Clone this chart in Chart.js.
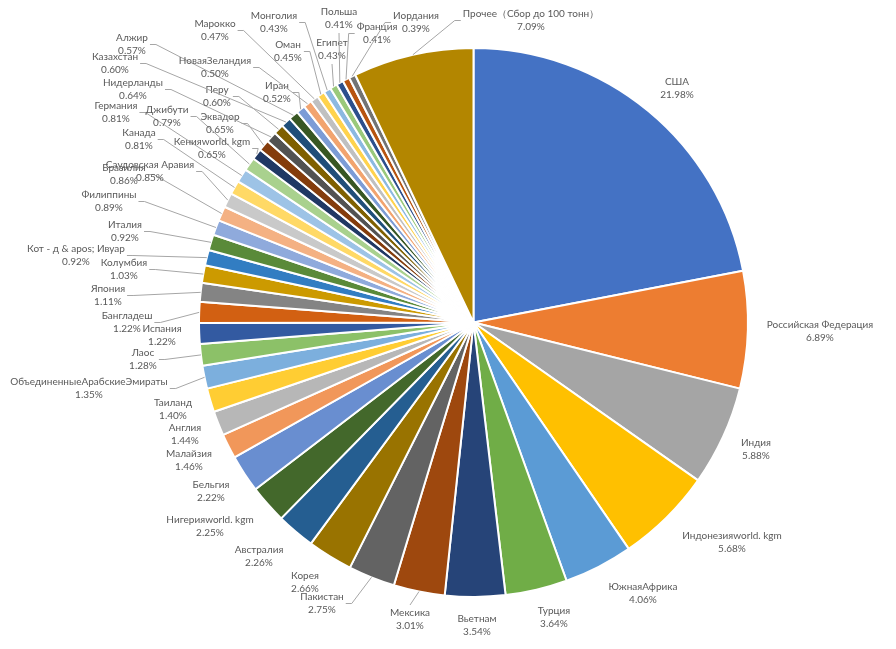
<!DOCTYPE html>
<html lang="ru">
<head>
<meta charset="UTF-8">
<title>Доля стран</title>
<script src="https://cdn.jsdelivr.net/npm/chart.js"></script>
<style>
  html, body { margin: 0; padding: 0; background: #fff; }
  #wrap { width: 896px; height: 649px; }
</style>
</head>
<body>
<div id="wrap"><canvas id="pie" width="896" height="649"></canvas></div>
<script>
  const countries = [
    'США', 'Российская Федерация', 'Индия', 'Индонезияworld. kgm', 'ЮжнаяАфрика', 'Турция',
    'Вьетнам', 'Мексика', 'Пакистан', 'Корея', 'Австралия', 'Нигерияworld. kgm',
    'Бельгия', 'Малайзия', 'Англия', 'Таиланд', 'ОбъединенныеАрабскиеЭмираты', 'Лаос',
    'Испания', 'Бангладеш', 'Япония', 'Колумбия', 'Кот - д & apos; Ивуар', 'Италия',
    'Филиппины', 'Бразилия', 'Саудовская Аравия', 'Канада', 'Германия', 'Джибути',
    'Кенияworld. kgm', 'Эквадор', 'Нидерланды', 'Перу', 'Казахстан', 'Алжир',
    'Иран', 'НоваяЗеландия', 'Марокко', 'Оман', 'Монголия', 'Египет',
    'Польша', 'Франция', 'Иордания', 'Прочее（Сбор до 100 тонн）'
  ];

  const shares = [
    21.98, 6.89, 5.88, 5.68, 4.06, 3.64,
    3.54, 3.01, 2.75, 2.66, 2.26, 2.25,
    2.22, 1.46, 1.44, 1.40, 1.35, 1.28,
    1.22, 1.22, 1.11, 1.03, 0.92, 0.92,
    0.89, 0.86, 0.85, 0.81, 0.81, 0.79,
    0.65, 0.65, 0.64, 0.60, 0.60, 0.57,
    0.52, 0.50, 0.47, 0.45, 0.43, 0.43,
    0.41, 0.41, 0.39, 7.09
  ];

  // office palette, cycled through its shades the way Excel does
  const colors = [
    '#4472C4', '#ED7D31', '#A5A5A5', '#FFC000', '#5B9BD5', '#70AD47',
    '#264478', '#9E480E', '#636363', '#997300', '#255E91', '#43682B',
    '#698ED0', '#F1975A', '#B7B7B7', '#FFCD33', '#7CAFDD', '#8CC168',
    '#335AA1', '#D26012', '#848484', '#CC9A00', '#327DC2', '#5A8A39',
    '#8FAADC', '#F4B183', '#C9C9C9', '#FFD966', '#9DC3E6', '#A9D18E',
    '#203864', '#843C0C', '#525252', '#7F6000', '#1F4E79', '#385723',
    '#7C9CD6', '#F2A46F', '#C0C0C0', '#FFD34D', '#8CB9E1', '#9AC97B',
    '#2C4F8D', '#B85410', '#737373', '#B38600'
  ];

  // where each label sits (centre of its first line) and whether it has a leader line
  const labelPos = [
    [677, 82], [820, 325], [756, 443], [732, 536], [643, 587], [554, 611],
    [477, 619], [410, 613], [322, 597], [305, 576], [259, 550], [210, 520],
    [211, 485], [189, 454], [185, 428], [173, 403], [89, 382], [143, 353],
    [162, 329], [127, 316], [108, 289], [124, 263], [76, 249], [125, 225],
    [109, 195], [124, 168], [150, 165], [139, 133], [116, 106], [167, 110],
    [212, 142], [220, 117], [133, 83], [217, 90], [115, 57], [132, 38],
    [277, 86], [215, 61], [215, 24], [288, 45], [274, 16], [332, 43],
    [339, 12], [377, 27], [416, 16], [531, 14]
  ];
  const leaders = [
    0, 0, 0, 0, 0, 0,
    0, 1, 1, 0, 0, 0,
    0, 0, 0, 0, 1, 1,
    0, 1, 1, 1, 1, 1,
    1, 1, 1, 1, 1, 1,
    1, 1, 1, 1, 1, 1,
    1, 1, 1, 1, 1, 1,
    1, 1, 1, 1
  ];

  const lineGap = 13;

  const outsideLabels = {
    id: 'outsideLabels',
    afterDatasetsDraw(chart) {
      const ctx = chart.ctx;
      const arcs = chart.getDatasetMeta(0).data;
      ctx.save();
      ctx.font = '10px Lato';
      ctx.textAlign = 'center';
      ctx.textBaseline = 'middle';
      arcs.forEach((arc, i) => {
        const [lx, ly] = labelPos[i];
        const name = countries[i];
        const pct = shares[i].toFixed(2) + '%';
        if (leaders[i]) {
          const mid = (arc.startAngle + arc.endAngle) / 2;
          const px = arc.x + Math.cos(mid) * arc.outerRadius;
          const py = arc.y + Math.sin(mid) * arc.outerRadius;
          const w = Math.max(ctx.measureText(name).width, ctx.measureText(pct).width);
          const left = lx - w / 2 - 2, right = lx + w / 2 + 2;
          const top = ly - 8, bottom = ly + lineGap + 8;
          const cy = (top + bottom) / 2;
          ctx.beginPath();
          if (px > right) {
            ctx.moveTo(right, cy);
            ctx.lineTo(right + 6, cy);
          } else if (px < left) {
            ctx.moveTo(left, cy);
            ctx.lineTo(left - 6, cy);
          } else if (py > bottom) {
            ctx.moveTo(lx, bottom);
          } else {
            ctx.moveTo(lx, top);
          }
          ctx.lineTo(px, py);
          ctx.strokeStyle = '#a6a6a6';
          ctx.lineWidth = 1;
          ctx.stroke();
        }
        ctx.fillStyle = '#595959';
        ctx.fillText(name, lx, ly);
        ctx.fillText(pct, lx, ly + lineGap);
      });
      ctx.restore();
    }
  };

  new Chart(document.getElementById('pie'), {
    type: 'pie',
    data: {
      labels: countries,
      datasets: [{
        data: shares,
        backgroundColor: colors,
        borderColor: '#ffffff',
        borderWidth: 2
      }]
    },
    options: {
      responsive: false,
      animation: false,
      layout: { padding: { top: 47, bottom: 51, left: 51, right: 0 } },
      plugins: {
        legend: { display: false },
        tooltip: { enabled: false }
      }
    },
    plugins: [outsideLabels]
  });
</script>
</body>
</html>
